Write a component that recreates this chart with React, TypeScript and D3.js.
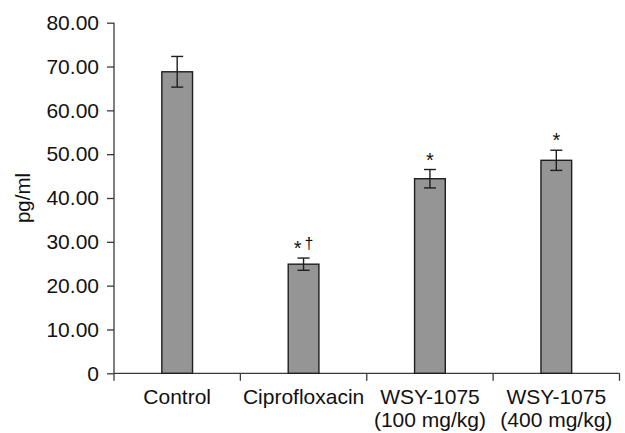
import React, { useEffect, useRef } from 'react';
import * as d3 from 'd3';

// Chart data
const categories = ['Control', 'Ciprofloxacin', 'WSY-1075\n(100 mg/kg)', 'WSY-1075\n(400 mg/kg)'];
const means = [68.8, 24.9, 44.4, 48.6];
const errors = [3.5, 1.4, 2.1, 2.3];
const marks = ['', '*†', '*', '*'];
const yTicks = [0, 10, 20, 30, 40, 50, 60, 70, 80];

const WIDTH = 625;
const HEIGHT = 433;
const FONT = '"Liberation Sans", Arial, sans-serif';

export default function App() {
    const svgRef = useRef<SVGSVGElement | null>(null);

    useEffect(() => {
        if (!svgRef.current) return;
        const svg = d3.select(svgRef.current);
        svg.selectAll('*').remove();

        const margin = { top: 22.7, right: 5.5, bottom: 59.7, left: 114 };
        const innerWidth = WIDTH - margin.left - margin.right;
        const innerHeight = HEIGHT - margin.top - margin.bottom;

        const g = svg.append('g')
            .attr('transform', `translate(${margin.left},${margin.top})`);

        const x = d3.scaleBand<number>()
            .domain(d3.range(categories.length))
            .range([0, innerWidth])
            .paddingInner(0)
            .paddingOuter(0);

        const y = d3.scaleLinear()
            .domain([0, 80])
            .range([innerHeight, 0]);

        const axisColor = '#3a3a3a';
        const barWidth = x.bandwidth() * 0.243;

        // y axis
        const yAxis = g.append('g')
            .call(d3.axisLeft(y)
                .tickValues(yTicks)
                .tickFormat(d => (+d === 0 ? '0' : d3.format('.2f')(+d)))
                .tickSize(7)
                .tickPadding(8)
                .tickSizeOuter(0));
        yAxis.select('.domain').remove();
        yAxis.selectAll('line').attr('stroke', axisColor).attr('stroke-width', 1.3);
        yAxis.selectAll('text')
            .attr('fill', '#111')
            .style('font-family', FONT)
            .style('font-size', '21px');

        g.append('line')
            .attr('x1', 0).attr('x2', 0)
            .attr('y1', 0).attr('y2', innerHeight + 7.5)
            .attr('stroke', axisColor)
            .attr('stroke-width', 1.3);

        // x axis
        g.append('line')
            .attr('x1', 0).attr('x2', innerWidth)
            .attr('y1', innerHeight).attr('y2', innerHeight)
            .attr('stroke', axisColor)
            .attr('stroke-width', 1.3);

        g.selectAll('.x-tick')
            .data(d3.range(1, categories.length + 1))
            .join('line')
            .attr('class', 'x-tick')
            .attr('x1', d => d * x.step()).attr('x2', d => d * x.step())
            .attr('y1', innerHeight).attr('y2', innerHeight + 7.5)
            .attr('stroke', axisColor)
            .attr('stroke-width', 1.3);

        const labels = g.selectAll('.x-label')
            .data(categories)
            .join('text')
            .attr('class', 'x-label')
            .attr('text-anchor', 'middle')
            .attr('fill', '#111')
            .style('font-family', FONT)
            .style('font-size', '21px')
            .attr('transform', (_, i) => `translate(${x(i)! + x.bandwidth() / 2},${innerHeight + 31})`);

        labels.selectAll('tspan')
            .data(d => d.split('\n'))
            .join('tspan')
            .attr('x', 0)
            .attr('y', (_, j) => j * 22.5)
            .text(d => d);

        // bars
        g.selectAll('.bar')
            .data(means)
            .join('rect')
            .attr('class', 'bar')
            .attr('x', (_, i) => x(i)! + x.bandwidth() / 2 - barWidth / 2)
            .attr('y', d => y(d))
            .attr('width', barWidth)
            .attr('height', d => innerHeight - y(d))
            .attr('fill', '#959595')
            .attr('stroke', '#1e1e1e')
            .attr('stroke-width', 1.4);

        // error bars
        const capHalf = 6;
        const err = g.selectAll('.err')
            .data(means)
            .join('g')
            .attr('class', 'err')
            .attr('transform', (_, i) => `translate(${x(i)! + x.bandwidth() / 2},0)`);

        err.append('line')
            .attr('y1', (d, i) => y(d + errors[i]))
            .attr('y2', (d, i) => y(d - errors[i]))
            .attr('stroke', '#1e1e1e').attr('stroke-width', 1.4);
        err.append('line')
            .attr('x1', -capHalf).attr('x2', capHalf)
            .attr('y1', (d, i) => y(d + errors[i]))
            .attr('y2', (d, i) => y(d + errors[i]))
            .attr('stroke', '#1e1e1e').attr('stroke-width', 1.4);
        err.append('line')
            .attr('x1', -capHalf).attr('x2', capHalf)
            .attr('y1', (d, i) => y(d - errors[i]))
            .attr('y2', (d, i) => y(d - errors[i]))
            .attr('stroke', '#1e1e1e').attr('stroke-width', 1.4);

        // significance marks: asterisk at full size, dagger a little smaller and raised
        const markText = err.append('text')
            .attr('text-anchor', 'middle')
            .attr('y', (d, i) => y(d + errors[i]) - 3)
            .attr('fill', '#111')
            .style('font-family', FONT)
            .style('font-size', '20px');

        markText.selectAll('tspan')
            .data((_, i) => marks[i].split(''))
            .join('tspan')
            .attr('dx', (c, j) => (j > 0 ? 3 : 0))
            .attr('dy', c => (c === '†' ? -6 : 0))
            .style('font-size', c => (c === '†' ? '16px' : '20px'))
            .text(c => c);

        // y axis title
        svg.append('text')
            .attr('transform', `translate(30,${margin.top + innerHeight / 2}) rotate(-90)`)
            .attr('text-anchor', 'middle')
            .attr('fill', '#111')
            .style('font-family', FONT)
            .style('font-size', '20.5px')
            .text('pg/ml');
    }, []);

    return (
        <svg
            ref={svgRef}
            width={WIDTH}
            height={HEIGHT}
            style={{ position: 'absolute', left: 0, top: 0, background: '#fff' }}
        />
    );
}
